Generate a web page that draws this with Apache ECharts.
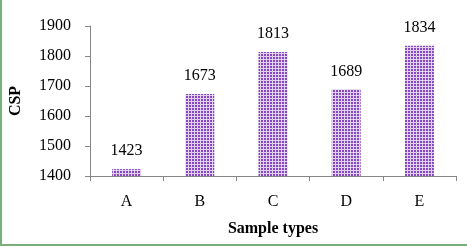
<!DOCTYPE html>
<html><head><meta charset="utf-8">
<script src="https://cdn.jsdelivr.net/npm/echarts@6/dist/echarts.min.js"></script>
<style>
html,body{margin:0;padding:0;background:#fff;}
#wrap{position:absolute;left:0;top:0;width:467px;height:246px;box-sizing:border-box;border-left:2px solid #79b079;border-bottom:2px solid #79b079;}
#c{position:absolute;left:0;top:0;width:467px;height:246px;}
</style></head>
<body>
<div id="wrap"></div>
<div id="c"></div>
<script>
var categories = ['A','B','C','D','E'];
var values = [1423, 1673, 1813, 1689, 1834];
var yTicks = [1400, 1500, 1600, 1700, 1800, 1900];

var pc = document.createElement('canvas');
pc.width = 3; pc.height = 3;
var g = pc.getContext('2d');
g.fillStyle = '#e2d2f0'; g.fillRect(0,0,3,3);
g.fillStyle = '#8448c0'; g.fillRect(0,0,2,2);

var chart = echarts.init(document.getElementById('c'), null, {renderer:'canvas'});
var font = '"Liberation Serif", "Times New Roman", serif';
chart.setOption({
  animation:false,
  grid:{left:89, right:11, top:26, bottom:70},
  xAxis:{type:'category', data:categories,
    axisLine:{lineStyle:{color:'#868686', width:1}},
    axisTick:{show:true, length:5, lineStyle:{color:'#868686'}},
    axisLabel:{color:'#000', fontFamily:font, fontSize:16, margin:18},
    name:'Sample types', nameLocation:'middle', nameGap:45,
    nameTextStyle:{color:'#000', fontFamily:font, fontSize:16, fontWeight:'bold'}},
  yAxis:{type:'value', min:yTicks[0], max:yTicks[yTicks.length-1], interval:100,
    axisLine:{show:true, lineStyle:{color:'#868686'}},
    axisTick:{show:true, length:5, lineStyle:{color:'#868686'}},
    splitLine:{show:false},
    axisLabel:{color:'#000', fontFamily:font, fontSize:16, margin:19, formatter:function(v){return String(v);}},
    name:'CSP', nameLocation:'middle', nameGap:66, nameRotate:90,
    nameTextStyle:{color:'#000', fontFamily:font, fontSize:16, fontWeight:'bold'}},
  series:[{type:'bar', data:values, barWidth:29,
    itemStyle:{color:{image:pc, repeat:'repeat'}},
    label:{show:true, position:'top', distance:10, color:'#000', fontFamily:font, fontSize:16}}]
});
</script>
</body></html>
